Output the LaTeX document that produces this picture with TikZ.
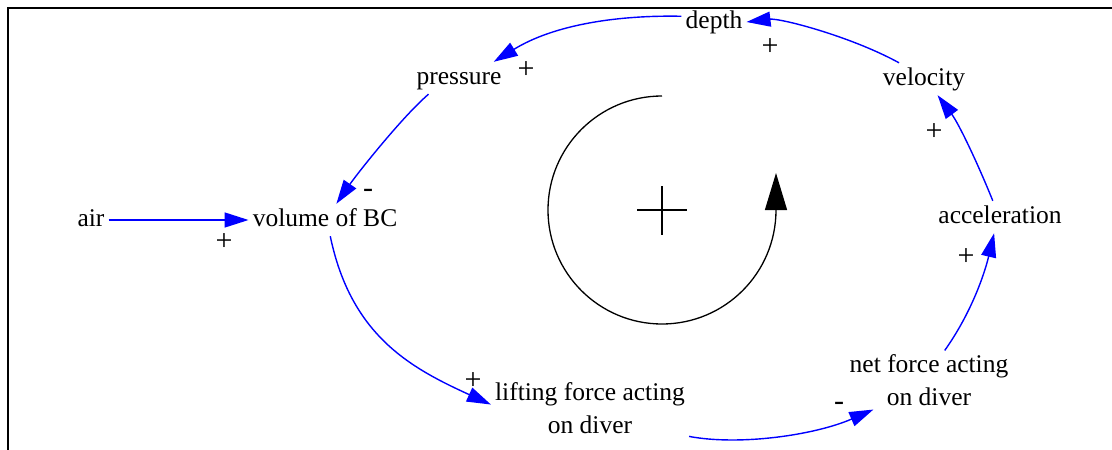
\documentclass[tikz,border=0pt]{standalone}
\usepackage{fontspec}
\setmainfont{Liberation Serif}
\usetikzlibrary{arrows.meta}
\begin{document}
\begin{tikzpicture}[x=1pt,y=-1pt,
  var/.style={font=\fontsize{25.5}{32.5}\selectfont, inner sep=4pt, text height=18pt, text depth=6pt},
  var2/.style={font=\fontsize{25.5}{32.5}\selectfont, inner sep=4pt, align=center},
  link/.style={draw=blue, line width=1.4pt, -{Triangle[length=24pt,width=15pt]}},
  pol/.style={font=\fontsize{30}{30}\selectfont, inner sep=0pt},
  frame/.style={line width=2.6pt},
  loopline/.style={line width=1.3pt, -{Triangle[length=37pt,width=22pt]}}
]
\useasboundingbox (0,0) rectangle (1112,450);
\draw[frame] (8,450) -- (8,8) -- (1112,8);

\node[var] (depth) at (714,22) {depth};
\node[var] (pressure) at (459,78) {pressure};
\node[var] (velocity) at (924,79) {velocity};
\node[var] (air) at (91,220) {air};
\node[var] (volume) at (325,220) {volume of BC};
\node[var] (accel) at (1000,217) {acceleration};
\node[var2] (lift) at (590,408) {lifting force acting\\on diver};
\node[var2] (net) at (929,380) {net force acting\\on diver};

\draw[link] (velocity.147) .. controls (850,36) and (780,18) .. (depth.east);
\draw[link] (depth.170) .. controls (620,15) and (555,24) .. (pressure.25);
\draw[link] (pressure.208) .. controls (402,117) and (357,174) .. (volume.55);
\draw[link] (air) -- (volume);
\draw[link] (volume.-72) .. controls (351,336) and (411,368) .. (lift.178);
\draw[link] (lift.-16) .. controls (740,446) and (815,435) .. (net.208);
\draw[link] (net.62) .. controls (972,312) and (985,272) .. (accel.250);
\draw[link] (accel.114) .. controls (978,164) and (959,124) .. (velocity.-50);

\node[pol] (p1) at (770,47) {+};
\node[pol] (p2) at (526,70) {+};
\node[pol] (p3) at (368,193) {-};
\node[pol] (p4) at (224,242) {+};
\node[pol] (p5) at (473,381) {+};
\node[pol] (p6) at (839,406) {-};
\node[pol] (p7) at (966,257) {+};
\node[pol] (p8) at (934,132) {+};

\draw[loopline] (662,96) arc[start angle=90, end angle=360, radius=114pt] -- ++(0,-37);
\draw[frame] (637,210) -- (687,210) (662,186) -- (662,235);
\end{tikzpicture}
\end{document}
